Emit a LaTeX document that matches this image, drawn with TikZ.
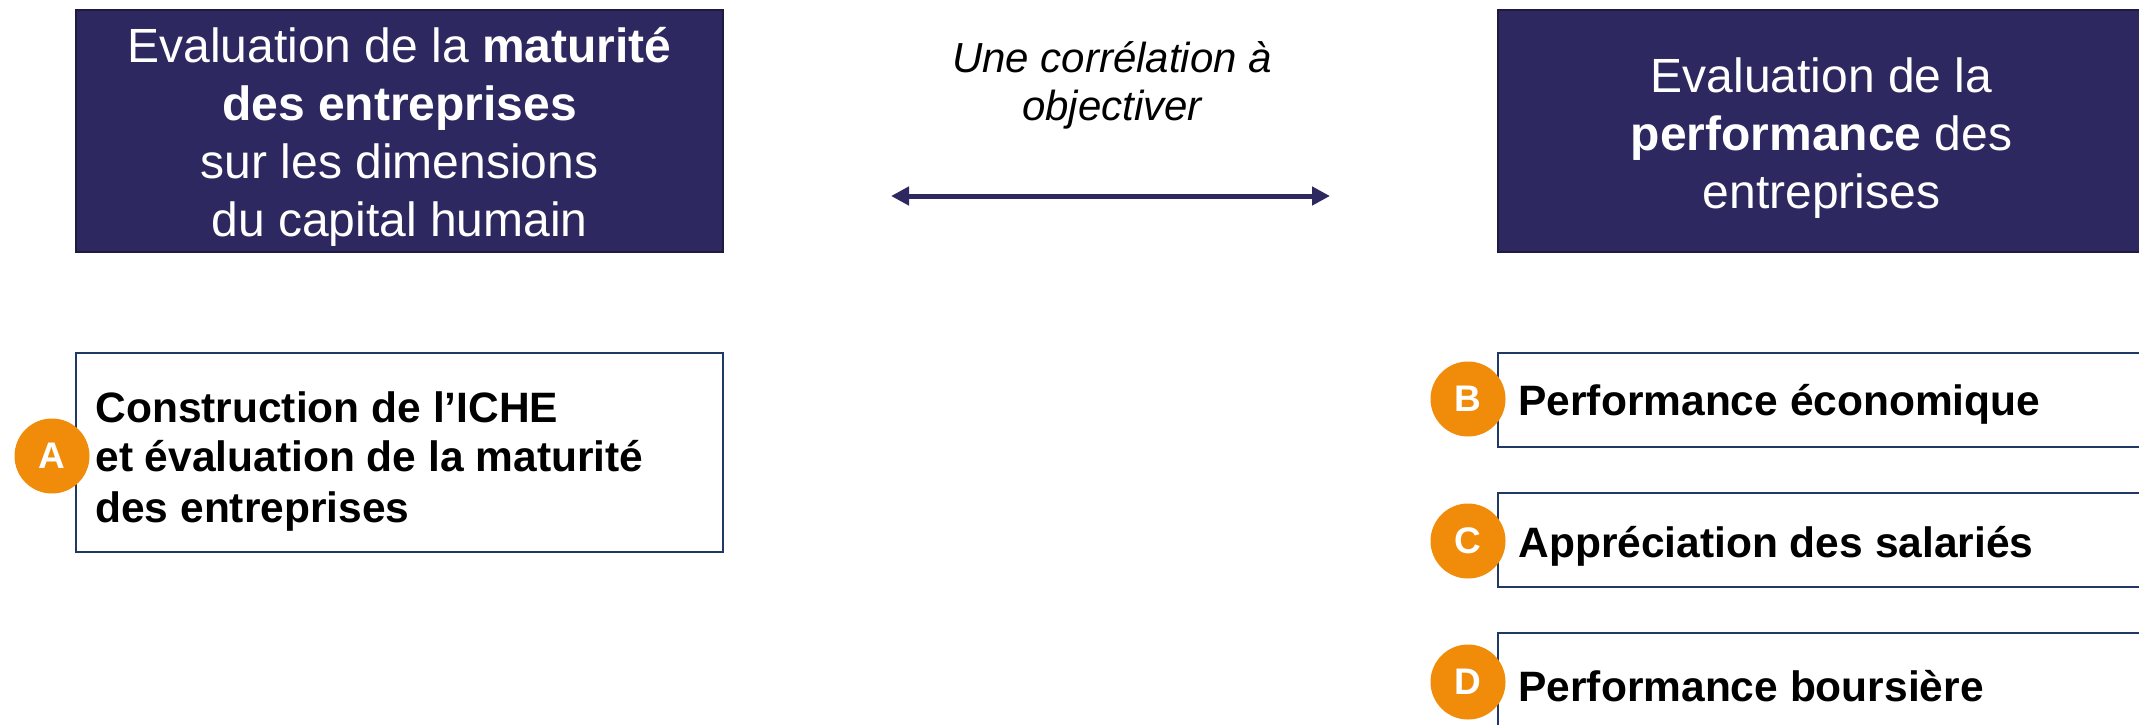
\documentclass[tikz,border=0pt]{standalone}
\usepackage{fontspec}
\setmainfont{Liberation Sans}
\usetikzlibrary{arrows.meta}
\definecolor{navy}{RGB}{46,40,96}
\definecolor{navyedge}{RGB}{30,26,64}
\definecolor{frame}{RGB}{31,56,100}
\definecolor{badge}{RGB}{240,140,10}
\tikzset{
  headbox/.style={fill=navy, draw=navyedge, line width=1pt, minimum width=323.5pt,
    minimum height=121pt, inner sep=0pt},
  headtext/.style={text=white, align=center, inner sep=0pt,
    font=\fontsize{24}{29}\selectfont},
  itembox/.style={draw=frame, line width=1.1pt, fill=white, minimum width=323.5pt,
    inner sep=0pt},
  itemtext/.style={anchor=west, align=left, inner sep=0pt,
    font=\bfseries\fontsize{21.25}{25}\selectfont},
  letterdot/.style={circle, fill=badge, minimum size=37.5pt, inner sep=0pt,
    text=white, font=\bfseries\fontsize{18.5}{18.5}\selectfont},
  linkarrow/.style={draw=navy, line width=2.5pt,
    {Triangle[length=9pt,width=9pt]}-{Triangle[length=9pt,width=9pt]}},
}
\begin{document}
\begin{tikzpicture}[x=0.5pt, y=-0.5pt]
  \useasboundingbox (0,0) rectangle (2139,724);
  \clip (0,0) rectangle (2139,724);

  % headers
  \node[headbox] (maturite) at (399.5,131) {};
  \node[headtext] (maturiteText) at (399.5,136.5)
    {Evaluation de la \textbf{maturité}\\\textbf{des entreprises}\\sur les dimensions\\du capital humain};
  \node[headbox] (performance) at (1821.5,131) {};
  \node[headtext] (performanceText) at (1821.5,138)
    {Evaluation de la\\\textbf{performance} des\\entreprises};

  % correlation link
  \node[font=\itshape\fontsize{21}{24}\selectfont, align=center] (corr) at (1112,85)
    {Une corrélation à\\objectiver};
  \coordinate (aL) at (891,196);
  \coordinate (aR) at (1330,196);
  \draw[linkarrow] (aL) -- (aR);

  % left item
  \node[itembox, minimum height=99.5pt] (boxA) at (399.5,452.5) {};
  \node[itemtext] (textA) at (95,461)
    {Construction de l’ICHE\\et évaluation de la maturité\\des entreprises};

  % right items
  \node[itembox, minimum height=47pt] (boxB) at (1821.5,400) {};
  \node[itembox, minimum height=47pt] (boxC) at (1821.5,540) {};
  \node[itembox, minimum height=47pt] (boxD) at (1821.5,680) {};
  \node[itemtext] (textB) at (1518,404) {Performance économique};
  \node[itemtext] (textC) at (1518,546) {Appréciation des salariés};
  \node[itemtext] (textD) at (1518,686) {Performance boursière};

  % letter badges
  \node[letterdot] (dotA) at (52,456) {A};
  \node[letterdot] (dotB) at (1468,399) {B};
  \node[letterdot] (dotC) at (1468,541) {C};
  \node[letterdot] (dotD) at (1468,682) {D};
\end{tikzpicture}
\end{document}
